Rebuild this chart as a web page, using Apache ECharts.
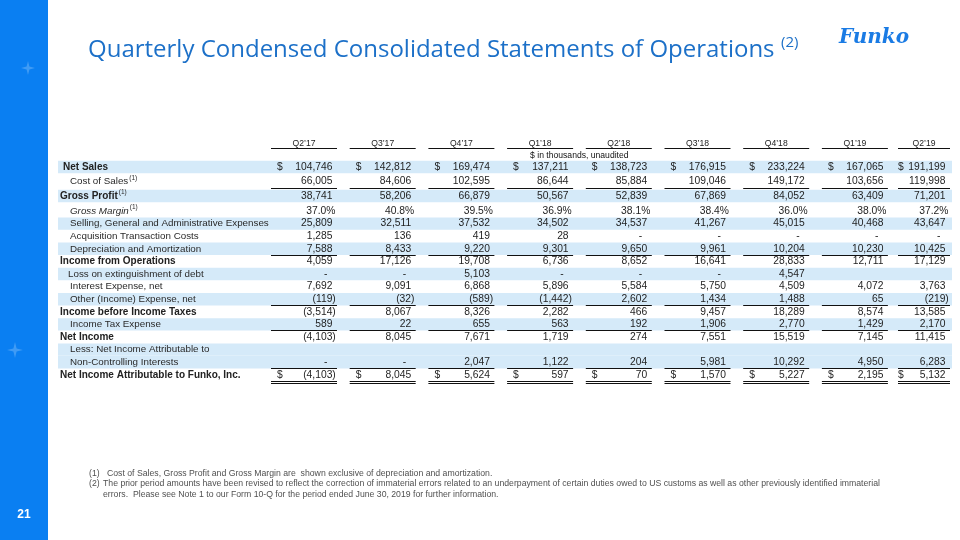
<!DOCTYPE html>
<html>
<head>
<meta charset="utf-8">
<script src="https://cdn.jsdelivr.net/npm/echarts@6/dist/echarts.min.js"></script>
<style>
html,body{margin:0;padding:0;background:#fff;}
#chart{width:960px;height:540px;}
</style>
</head>
<body>
<div id="chart"></div>
<script>
// ---------------- DATA ----------------
const quarters = ["Q2\u201917","Q3\u201917","Q4\u201917","Q1\u201918","Q2\u201918","Q3\u201918","Q4\u201918","Q1\u201919","Q2\u201919"];
const rowLabels = [
  "Net Sales","Cost of Sales","Gross Profit","Gross Margin",
  "Selling, General and Administrative Expenses","Acquisition Transaction Costs",
  "Depreciation and Amortization","Income from Operations","Loss on extinguishment of debt",
  "Interest Expense, net","Other (Income) Expense, net","Income before Income Taxes",
  "Income Tax Expense","Net Income","Less: Net Income Attributable to",
  "Non-Controlling Interests","Net Income Attributable to Funko, Inc."
];
const netSales          = [104746,142812,169474,137211,138723,176915,233224,167065,191199];
const costOfSales       = [66005,84606,102595,86644,85884,109046,149172,103656,119998];
const grossProfit       = [38741,58206,66879,50567,52839,67869,84052,63409,71201];
const grossMargin       = [37.0,40.8,39.5,36.9,38.1,38.4,36.0,38.0,37.2];
const sgaExpenses       = [25809,32511,37532,34502,34537,41267,45015,40468,43647];
const acquisitionCosts  = [1285,136,419,28,0,0,0,0,0];
const depreciation      = [7588,8433,9220,9301,9650,9961,10204,10230,10425];
const incomeFromOps     = [4059,17126,19708,6736,8652,16641,28833,12711,17129];
const lossOnDebt        = [0,0,5103,0,0,0,4547,null,null];
const interestExpense   = [7692,9091,6868,5896,5584,5750,4509,4072,3763];
const otherExpense      = [-119,-32,-589,-1442,2602,1434,1488,65,-219];
const incomeBeforeTaxes = [-3514,8067,8326,2282,466,9457,18289,8574,13585];
const incomeTax         = [589,22,655,563,192,1906,2770,1429,2170];
const netIncome         = [-4103,8045,7671,1719,274,7551,15519,7145,11415];
const nciIncome         = [0,0,2047,1122,204,5981,10292,4950,6283];
const netIncomeFunko    = [-4103,8045,5624,597,70,1570,5227,2195,5132];

// ---------------- TABLE (built from the arrays) ----------------
const rows = [
  {values: netSales, kind:'bold0', shade:true, dollar:true},
  {values: costOfSales, kind:'ind', sup:true, underline:1},
  {values: grossProfit, kind:'bold', sup:true, shade:true},
  {values: grossMargin, kind:'ital', sup:true, pct:true},
  {values: sgaExpenses, kind:'ind', shade:true},
  {values: acquisitionCosts, kind:'ind'},
  {values: depreciation, kind:'ind', shade:true, underline:1},
  {values: incomeFromOps, kind:'bold'},
  {values: lossOnDebt, kind:'ind2', shade:true},
  {values: interestExpense, kind:'ind'},
  {values: otherExpense, kind:'ind', shade:true, underline:1},
  {values: incomeBeforeTaxes, kind:'bold'},
  {values: incomeTax, kind:'ind', shade:true, underline:1},
  {values: netIncome, kind:'bold'},
  {values: null, kind:'ind', shade:true},
  {values: nciIncome, kind:'ind', shade:true, underline:1},
  {values: netIncomeFunko, kind:'bold', dollar:true, underline:2}
];
rows.forEach((r,i)=>{ r.label = rowLabels[i]; });
const splitAt = 3; // first block of rows has taller spacing

// ---------------- LAYOUT ----------------
const L = {
  gridLeft: 258.3, gridRight: 950, colW: 78.7, ulW: 66, lastUlW: 52, valInset: 4.5,
  labelX: 60, bandLeft: 58, topA: 159.75, rowA: 14.5, topB: 204.7, rowB: 12.6,
  bandH: 12.4, numFont: '10.3px "Liberation Sans", Arial, sans-serif',
  hdrFont: '8.6px "Liberation Sans", Arial, sans-serif',
  textColor: '#1e1e1e', band: '#d5eaf9', rule: '#111'
};
const xMax = -0.5 + (L.gridRight - L.gridLeft) / L.colW;

function fmtInt(n){ return String(Math.abs(Math.round(n))).replace(/\B(?=(\d{3})+(?!\d))/g, ','); }

function labelText(r){
  return '{' + r.kind + '|' + r.label + '}' + (r.sup ? '{sup|(1)}' : '');
}
const richStyles = {
  bold0: {fontSize:10, fontWeight:'bold', color:'#222', padding:[0,0,0,3], lineHeight:14},
  bold:  {fontSize:10, fontWeight:'bold', color:'#222', lineHeight:14},
  ind:   {fontSize:9.8, color:'#2a2a2a', padding:[0,0,0,10], lineHeight:14},
  ind2:  {fontSize:9.8, color:'#2a2a2a', padding:[0,0,0,8], lineHeight:14},
  ital:  {fontSize:9.8, fontStyle:'italic', color:'#2a2a2a', padding:[0,0,0,10], lineHeight:14},
  sup:   {fontSize:6.5, color:'#2a2a2a', lineHeight:6, verticalAlign:'top', padding:[0,0,0,1]}
};

function makeRender(offset){
  return function(params, api){
    const i = api.value(1);
    const gi = offset + i;
    const r = rows[gi];
    const y = api.coord([0, i])[1];
    const last = quarters.length - 1;
    const gridR = api.coord([xMax, i])[0];
    const colRight = j => (j === last ? gridR : api.coord([j + 0.5, i])[0]);
    const ulLeft = j => colRight(j) - (j === last ? L.lastUlW : L.ulW);
    const kids = [];
    if (r.shade){
      const x0 = api.coord([-0.5, i])[0] - (L.gridLeft - L.bandLeft);
      const x1 = gridR + 2;
      kids.push({type:'rect', shape:{x:x0, y:y - L.bandH/2, width:x1 - x0, height:L.bandH}, style:{fill:L.band}});
    }
    if (gi === 0){
      quarters.forEach((q,j)=>{
        const cx = (ulLeft(j) + colRight(j)) / 2;
        kids.push({type:'text', style:{text:q, x:cx, y:y - 23.5, align:'center', verticalAlign:'middle', font:L.hdrFont, fill:'#222'}});
        kids.push({type:'line', shape:{x1:ulLeft(j), y1:Math.round(y - 19) + 0.5, x2:colRight(j), y2:Math.round(y - 19) + 0.5}, style:{stroke:L.rule, lineWidth:1}});
      });
      kids.push({type:'text', style:{text:'$ in thousands, unaudited', x:ulLeft(3) + 23, y:y - 11.5, align:'left', verticalAlign:'middle', font:L.hdrFont, fill:'#111'}});
    }
    if (r.values){
      r.values.forEach((v,j)=>{
        if (v === null || v === undefined) return;
        const vr = colRight(j) - L.valInset;
        let txt, x = vr;
        if (r.pct){ txt = v.toFixed(1) + '%'; x = vr + 3; }
        else if (v === 0){ txt = '-'; x = vr - 5; }
        else if (v < 0){ txt = '(' + fmtInt(v) + ')'; x = vr + 3.3; }
        else { txt = fmtInt(v); }
        kids.push({type:'text', style:{text:txt, x:x, y:y, align:'right', verticalAlign:'middle', font:L.numFont, fill:L.textColor}});
        if (r.dollar){
          kids.push({type:'text', style:{text:'$', x:ulLeft(j) + (j === last ? 0 : 6), y:y, align:'left', verticalAlign:'middle', font:L.numFont, fill:L.textColor}});
        }
        if (r.underline >= 1){
          const ly = Math.round(y + 6) + 0.5;
          kids.push({type:'line', shape:{x1:ulLeft(j), y1:ly, x2:colRight(j), y2:ly}, style:{stroke:L.rule, lineWidth:1}});
          if (r.underline === 2){
            kids.push({type:'line', shape:{x1:ulLeft(j), y1:ly + 2, x2:colRight(j), y2:ly + 2}, style:{stroke:L.rule, lineWidth:1}});
          }
        }
      });
    }
    return {type:'group', children:kids};
  };
}

const rowsA = rows.slice(0, splitAt), rowsB = rows.slice(splitAt);
function yAxisFor(gridIndex, rs){
  return {
    type:'category', gridIndex: gridIndex, inverse:true, data: rs.map(r=>r.label), z: 10,
    axisLine:{show:false}, axisTick:{show:false}, splitLine:{show:false},
    axisLabel:{interval:0, align:'left', margin: L.gridLeft - L.labelX,
      fontFamily:'"Liberation Sans", Arial, sans-serif',
      formatter:(val, idx)=>labelText(rs[idx]), rich: richStyles}
  };
}
function xAxisFor(gridIndex){
  return {type:'value', gridIndex: gridIndex, min:-0.5, max:xMax, show:false, splitLine:{show:false}};
}

function starPts(cx, cy, s){
  const k = s*0.2;
  return [[cx,cy-s],[cx+k,cy-k],[cx+s,cy],[cx+k,cy+k],[cx,cy+s],[cx-k,cy+k],[cx-s,cy],[cx-k,cy-k]];
}

const footFont = '8.7px "Liberation Sans", Arial, sans-serif';
const option = {
  animation:false,
  backgroundColor:'#ffffff',
  grid:[
    {left:L.gridLeft, top:L.topA, width:L.gridRight - L.gridLeft, height:L.rowA*rowsA.length, outerBoundsMode:'none', containLabel:false},
    {left:L.gridLeft, top:L.topB, width:L.gridRight - L.gridLeft, height:L.rowB*rowsB.length, outerBoundsMode:'none', containLabel:false}
  ],
  xAxis:[ xAxisFor(0), xAxisFor(1) ],
  yAxis:[ yAxisFor(0, rowsA), yAxisFor(1, rowsB) ],
  series:[
    {type:'custom', xAxisIndex:0, yAxisIndex:0, clip:false, z:1, silent:true,
     data: rowsA.map((r,i)=>[0,i]), encode:{x:0, y:1}, renderItem: makeRender(0)},
    {type:'custom', xAxisIndex:1, yAxisIndex:1, clip:false, z:1, silent:true,
     data: rowsB.map((r,i)=>[0,i]), encode:{x:0, y:1}, renderItem: makeRender(splitAt)}
  ],
  graphic:[
    {type:'rect', shape:{x:0, y:0, width:48, height:540}, style:{fill:'#0a7ff2'}, z:0},
    {type:'polygon', shape:{points: starPts(28,68,7)}, style:{fill:'rgba(255,255,255,0.22)'}, z:1},
    {type:'polygon', shape:{points: starPts(15,350,8)}, style:{fill:'rgba(255,255,255,0.22)'}, z:1},
    {type:'text', style:{text:'21', x:24, y:515, align:'center', verticalAlign:'middle', font:'bold 12px "Liberation Sans", Arial, sans-serif', fill:'#ffffff'}, z:2},
    {type:'text', style:{text:'Quarterly Condensed Consolidated Statements of Operations', x:88, y:50, align:'left', verticalAlign:'middle', font:'24px "Open Sans", sans-serif', fill:'#1c70c8'}, z:2},
    {type:'text', style:{text:'(2)', x:781, y:43, align:'left', verticalAlign:'middle', font:'15px "Open Sans", sans-serif', fill:'#1c70c8'}, z:2},
    {type:'text', style:{text:'Funko', x:874, y:38, align:'center', verticalAlign:'middle', font:'italic bold 20px "DejaVu Serif", serif', fill:'#1a7be4'}, z:2},
    {type:'text', style:{text:'(1)', x:89, y:474, align:'left', verticalAlign:'middle', font:footFont, fill:'#505050'}, z:2},
    {type:'text', style:{text:'Cost of Sales, Gross Profit and Gross Margin are  shown exclusive of depreciation and amortization.', x:107, y:474, align:'left', verticalAlign:'middle', font:footFont, fill:'#505050'}, z:2},
    {type:'text', style:{text:'(2)', x:89, y:484, align:'left', verticalAlign:'middle', font:footFont, fill:'#505050'}, z:2},
    {type:'text', style:{text:'The prior period amounts have been revised to reflect the correction of immaterial errors related to an underpayment of certain duties owed to US customs as well as other previously identified immaterial', x:103, y:484, align:'left', verticalAlign:'middle', font:footFont, fill:'#505050'}, z:2},
    {type:'text', style:{text:'errors.  Please see Note 1 to our Form 10-Q for the period ended June 30, 2019 for further information.', x:103, y:495, align:'left', verticalAlign:'middle', font:footFont, fill:'#505050'}, z:2}
  ]
};
const chart = echarts.init(document.getElementById('chart'), null, {renderer:'canvas'});
chart.setOption(option);
</script>
</body>
</html>
